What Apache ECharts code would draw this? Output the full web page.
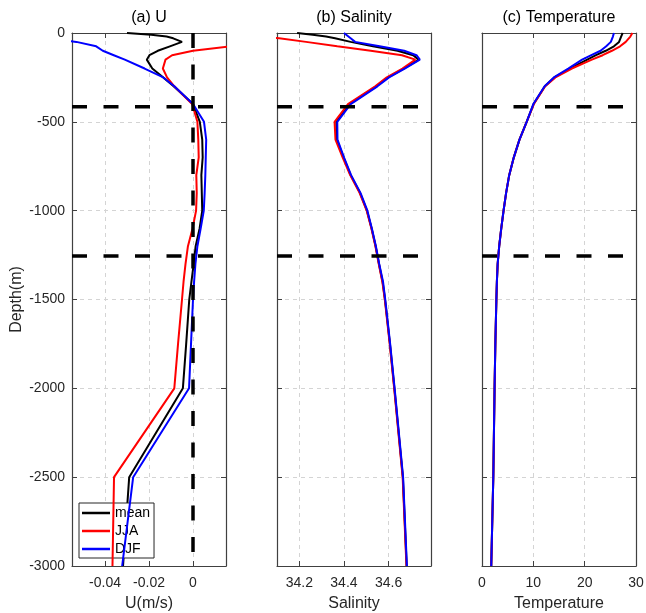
<!DOCTYPE html>
<html>
<head>
<meta charset="utf-8">
<script src="https://cdn.jsdelivr.net/npm/echarts@6/dist/echarts.min.js"></script>
<style>
html,body{margin:0;padding:0;background:#fff}
#chart{width:646px;height:613px}
</style>
</head>
<body>
<div id="chart"></div>
<script>
// standard depth levels (m)
const depth = [0,10,20,30,50,75,100,125,150,200,250,300,400,500,600,700,800,900,1000,1100,1200,1300,1400,1500,1750,2000,2500,3000];

// (a) zonal velocity U (m/s)
const uMean = [-0.030,-0.019,-0.012,-0.009,-0.005,-0.0105,-0.016,-0.0198,-0.021,-0.0185,-0.0135,-0.0088,0.0000,0.0031,0.0042,0.0044,0.0038,0.0040,0.0042,0.0030,0.0012,0.0003,-0.0007,-0.0017,-0.0031,-0.0046,-0.0290,-0.0318];
const uJJA  = [0.035,0.034,0.032,0.030,0.024,0.017,0.0,-0.0095,-0.0125,-0.0137,-0.0118,-0.0085,-0.0004,0.0020,0.0024,0.0026,0.0015,0.0017,0.0014,-0.0002,-0.0023,-0.0034,-0.0043,-0.0050,-0.0068,-0.0085,-0.0359,-0.0366];
const uDJF  = [-0.075,-0.073,-0.071,-0.068,-0.053,-0.044,-0.041,-0.036,-0.031,-0.022,-0.0135,-0.0085,0.0000,0.0050,0.0060,0.0058,0.0056,0.0053,0.0049,0.0035,0.0020,0.0011,0.0005,0.0000,-0.0009,-0.0018,-0.0272,-0.0322];

// (b) salinity
const sMean = [34.19,34.26,34.32,34.36,34.43,34.53,34.64,34.71,34.735,34.668,34.598,34.545,34.425,34.366,34.368,34.398,34.43,34.472,34.503,34.524,34.542,34.557,34.573,34.584,34.606,34.626,34.664,34.681];
const sJJA  = [33.9,33.96,34.03,34.11,34.23,34.37,34.52,34.66,34.72,34.662,34.592,34.54,34.418,34.358,34.362,34.394,34.428,34.47,34.502,34.523,34.541,34.556,34.572,34.583,34.605,34.625,34.663,34.68];
const sDJF  = [34.40,34.41,34.42,34.43,34.45,34.56,34.67,34.725,34.74,34.672,34.602,34.55,34.43,34.37,34.371,34.40,34.432,34.474,34.505,34.525,34.543,34.558,34.575,34.585,34.607,34.627,34.665,34.682];

// (c) temperature
const tMean = [27.4,27.3,27.1,26.9,26.7,25.7,24.1,22.2,20.5,17.1,14.1,12.25,10.05,8.7,7.3,6.2,5.3,4.7,4.2,3.75,3.35,3.05,2.9,2.8,2.6,2.45,2.2,1.8];
const tJJA  = [29.3,29.1,28.9,28.6,28.0,26.9,25.3,23.5,21.4,17.5,14.3,12.3,10.1,8.7,7.3,6.2,5.3,4.7,4.2,3.75,3.35,3.05,2.9,2.8,2.6,2.45,2.2,1.8];
const tDJF  = [25.7,25.6,25.5,25.4,25.1,24.2,23.1,21.3,19.5,16.8,14.0,12.2,10.0,8.7,7.3,6.2,5.3,4.7,4.2,3.75,3.35,3.05,2.9,2.8,2.6,2.45,2.2,1.8];

// axes
const uRange = [-0.055, 0.015], uTicks = [-0.04, -0.02, 0];
const sRange = [34.1, 34.79],  sTicks = [34.2, 34.4, 34.6];
const tRange = [0, 30],        tTicks = [0, 10, 20, 30];
const layerDepth = [415, 1255];   // dashed layer boundaries

const titles = ['(a) U', '(b) Salinity', '(c) Temperature'];
const xNames = ['U(m/s)', 'Salinity', 'Temperature'];
const seasons = ['mean', 'JJA', 'DJF'];
const colors = ['#000000', '#ff0000', '#0000ff'];

const panels = [
  {range: uRange, ticks: uTicks, data: [uMean, uJJA, uDJF]},
  {range: sRange, ticks: sTicks, data: [sMean, sJJA, sDJF]},
  {range: tRange, ticks: tTicks, data: [tMean, tJJA, tDJF]}
];

const FONT = 'Liberation Sans, Arial, Helvetica, sans-serif';
const AX = '#404040';
const gridLeft = [72, 277, 482];

const toPts = vals => vals.map((v, i) => [v, -depth[i]]);

const grid = [], xAxis = [], yAxis = [], series = [], title = [];

panels.forEach((p, i) => {
  grid.push({left: gridLeft[i], top: 33, width: 154, height: 533, containLabel: false, outerBoundsMode: 'none'});
  title.push({
    text: titles[i], left: gridLeft[i] + 77, top: 10, textAlign: 'center', padding: 0,
    textStyle: {fontFamily: FONT, fontSize: 16, fontWeight: 'normal', color: '#000'}
  });
  const baseX = {
    type: 'value', gridIndex: i, min: p.range[0], max: p.range[1],
    axisLine: {show: true, onZero: false, lineStyle: {color: AX, width: 1.2}},
    axisTick: {show: true, inside: true, length: 5, customValues: p.ticks, lineStyle: {color: AX}}
  };
  xAxis.push(Object.assign({}, baseX, {
    position: 'bottom',
    name: xNames[i], nameLocation: 'middle', nameGap: 30,
    nameTextStyle: {fontFamily: FONT, fontSize: 16, color: '#262626'},
    axisLabel: {show: true, customValues: p.ticks, margin: 10, fontFamily: FONT, fontSize: 14, color: '#262626',
      formatter: v => String(+(+v).toFixed(4))},
    splitLine: {show: true, lineStyle: {color: '#d4d4d4', width: 1, type: [4, 4]}}
  }));
  xAxis.push(Object.assign({}, baseX, {
    position: 'top', axisLabel: {show: false}, splitLine: {show: false}
  }));
  const baseY = {
    type: 'value', gridIndex: i, min: -3000, max: 0, interval: 500,
    axisLine: {show: true, onZero: false, lineStyle: {color: AX, width: 1.2}},
    axisTick: {show: true, inside: true, length: 5, lineStyle: {color: AX}}
  };
  yAxis.push(Object.assign({}, baseY, {
    position: 'left',
    name: i === 0 ? 'Depth(m)' : '', nameLocation: 'middle', nameGap: 47, nameRotate: 90,
    nameTextStyle: {fontFamily: FONT, fontSize: 16, color: '#262626'},
    axisLabel: {show: i === 0, margin: 7, fontFamily: FONT, fontSize: 14, color: '#262626',
      formatter: v => String(v)},
    splitLine: {show: true, lineStyle: {color: '#d4d4d4', width: 1, type: [4, 4]}}
  }));
  yAxis.push(Object.assign({}, baseY, {
    position: 'right', axisLabel: {show: false}, splitLine: {show: false}
  }));

  p.data.forEach((vals, k) => {
    series.push({
      name: seasons[k], type: 'line', xAxisIndex: 2 * i, yAxisIndex: 2 * i,
      data: toPts(vals), symbol: 'none', clip: true, z: 3 + k,
      lineStyle: {color: colors[k], width: 2}, itemStyle: {color: colors[k]}
    });
  });

  layerDepth.forEach(d => {
    series.push({
      name: 'layer', type: 'line', xAxisIndex: 2 * i, yAxisIndex: 2 * i,
      data: [[p.range[0], -d], [p.range[1], -d]], symbol: 'none', silent: true, z: 10,
      lineStyle: {color: '#000', width: 3.5, type: [15, 16.5]}
    });
  });
});

// zero line in panel (a)
series.push({
  name: 'zero', type: 'line', xAxisIndex: 0, yAxisIndex: 0,
  data: [[0, 0], [0, -3000]], symbol: 'none', silent: true, z: 10,
  lineStyle: {color: '#000', width: 3.5, type: [15, 16.5]}
});

const chart = echarts.init(document.getElementById('chart'), null, {renderer: 'canvas'});
chart.setOption({
  backgroundColor: '#fff',
  animation: false,
  title: title,
  grid: grid,
  xAxis: xAxis,
  yAxis: yAxis,
  legend: {
    data: seasons.map((s, k) => ({name: s, icon: 'rect', itemStyle: {color: colors[k]}})),
    orient: 'vertical', left: 79, top: 503,
    itemWidth: 28, itemHeight: 2.5, itemGap: 4, padding: [3, 4, 2, 3],
    backgroundColor: '#fff', borderColor: '#262626', borderWidth: 1,
    textStyle: {fontFamily: FONT, fontSize: 14, lineHeight: 14, color: '#000'},
    selectedMode: false
  },
  series: series
});
</script>
</body>
</html>
